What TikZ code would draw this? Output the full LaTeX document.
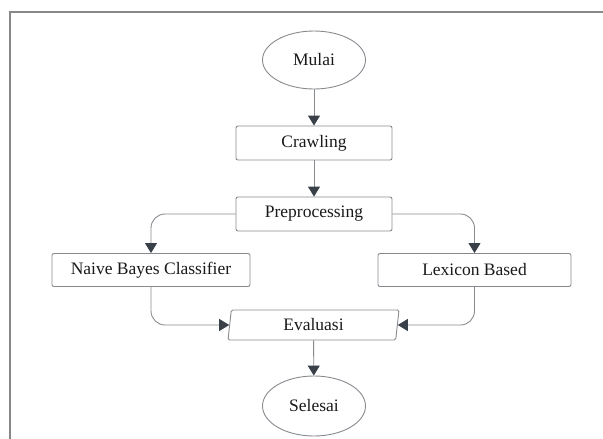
\documentclass[tikz,border=0pt]{standalone}
\usepackage{fontspec}
\setmainfont{Liberation Serif}
\definecolor{Frame}{RGB}{136,136,136}
\definecolor{Edge}{RGB}{135,138,143}
\definecolor{Tip}{RGB}{58,64,72}
\definecolor{Ink}{RGB}{25,25,25}
\usetikzlibrary{arrows.meta,positioning,shapes.geometric,calc}

\begin{document}
\begin{tikzpicture}[x=1pt,y=-1pt,
    every node/.style={font=\fontsize{17.5}{20}\selectfont,text=Ink},
    term/.style={ellipse,draw=Edge,line width=0.9pt,minimum width=103pt,minimum height=58pt,inner sep=0pt},
    proc/.style={rectangle,draw=Edge,line width=0.9pt,rounded corners=2pt,minimum height=34pt,inner sep=0pt},
    io/.style={trapezium,trapezium left angle=75,trapezium right angle=105,trapezium stretches body,
      draw=Edge,line width=0.9pt,rounded corners=1.5pt,minimum width=171pt,minimum height=30pt,inner sep=0pt},
    conn/.style={draw=Edge,line width=0.9pt,rounded corners=14pt,
      -{Triangle[width=12pt,length=10pt,color=Tip,fill=Tip]}}]
  \useasboundingbox (0,0) rectangle (603,439);
  \draw[Frame,line width=1.4pt] (10,439) -- (10,12) -- (603,12);
  \node[term] (mulai) at (314,60) {Mulai};
  \node[proc,minimum width=156pt] (crawl) at (314,143) {Crawling};
  \node[proc,minimum width=156pt] (prep) at (314,214) {Preprocessing};
  \node[proc,minimum width=198pt,minimum height=33pt] (nbc) at (151,270) {Naive Bayes Classifier};
  \node[proc,minimum width=193pt,minimum height=33pt] (lex) at (474.5,270) {Lexicon Based};
  \node[io] (eval) at (313.5,325) {Evaluasi};
  \node[term,minimum height=60pt] (selesai) at (314,406) {Selesai};
  \draw[conn] (mulai) -- (crawl);
  \draw[conn] (crawl) -- (prep);
  \draw[conn] (prep.west) -| (nbc.north);
  \draw[conn] (prep.east) -| (lex.north);
  \draw[conn] (nbc.south) |- (eval.west);
  \draw[conn] (lex.south) |- (eval.east);
  \draw[conn] (eval) -- (selesai);
\end{tikzpicture}
\end{document}
